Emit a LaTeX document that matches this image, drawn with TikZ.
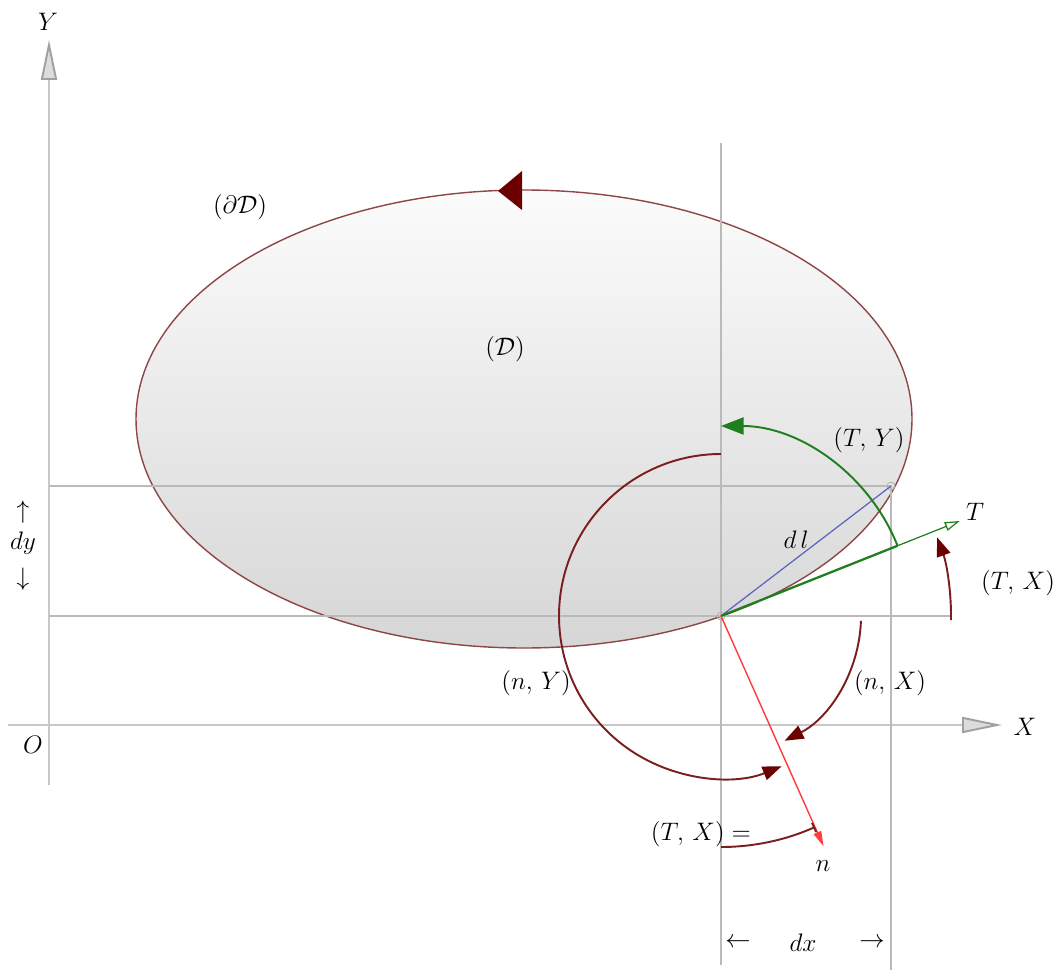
\documentclass[tikz,border=0pt]{standalone}
\usetikzlibrary{arrows.meta}
\definecolor{axisGray}{HTML}{C8C8C8}
\definecolor{axisFill}{HTML}{DCDCDC}
\definecolor{guideGray}{HTML}{BABABA}
\definecolor{rimRed}{HTML}{8E4646}
\definecolor{arcRed}{HTML}{7A1E1E}
\definecolor{tipRed}{HTML}{6A0000}
\definecolor{tanGreen}{HTML}{1F7F1F}
\definecolor{normRed}{HTML}{FF3B3B}
\definecolor{dlBlue}{HTML}{5A64C0}

\begin{document}
\begin{tikzpicture}[x=0.2mm,y=0.2mm]
  \tikzset{
    axis/.style={draw=axisGray,line width=1.1pt,-{Triangle[length=8mm,width=3.2mm,fill=axisFill,color=axisGray!80!black]}},
    guide/.style={draw=guideGray,line width=0.8pt},
    angarc/.style={draw=arcRed,line width=1.1pt,-{Triangle[length=3.8mm,width=2.8mm,fill=tipRed,color=tipRed]}},
    lbl/.style={font=\Large,inner sep=1pt}
  }
  \useasboundingbox (0,0) rectangle (1057,-970);

  % region and boundary
  \draw[rimRed,line width=0.8pt,top color=gray!3,bottom color=gray!32]
    (524,-419) ellipse [x radius=388,y radius=229];
  \fill[tipRed] (498,-191) -- (522,-171) -- (522,-210) -- cycle;

  % axes
  \coordinate (yFoot) at (49,-785);
  \coordinate (yHead) at (49,-40);
  \coordinate (xFoot) at (8,-725);
  \coordinate (xHead) at (1002,-725);
  \draw[axis] (yFoot) -- (yHead);
  \draw[axis] (xFoot) -- (xHead);

  % guide lines
  \coordinate (P) at (721,-616);
  \coordinate (Q) at (891,-486);
  \draw[guide] (49,-486) -- (Q) -- (891,-970);
  \draw[guide] (49,-616) -- (P) -- (950,-616);
  \draw[guide] (721,-143) -- (P) -- (721,-965);
  \draw[gray!60,line width=0.5pt] (P) circle[radius=4];
  \draw[gray!60,line width=0.5pt] (Q) circle[radius=4];

  % vectors
  \coordinate (Tcut) at ([shift={(21.7:190)}]P);
  \coordinate (Ttip) at ([shift={(21.7:257)}]P);
  \coordinate (ntip) at ([shift={(-66:252)}]P);
  \draw[dlBlue,line width=0.7pt] (P) -- (Q);
  \draw[tanGreen,line width=1.3pt] (P) -- (Tcut);
  \draw[tanGreen,line width=0.7pt,-{Triangle[open,length=3mm,width=1.8mm]}] (Tcut) -- (Ttip);
  \draw[normRed,line width=0.8pt,-{Triangle[length=3mm,width=1.6mm]}] (P) -- (ntip);

  % angles
  \draw[tanGreen,line width=1.1pt,-{Triangle[length=4.5mm,width=3.4mm]}]
    (Tcut) arc[start angle=21.7,end angle=90,radius=190];
  \draw[angarc] ([shift={(-1:230)}]P) arc[start angle=-1,end angle=20,radius=230];
  \draw[angarc] ([shift={(-2:140)}]P) arc[start angle=-2,end angle=-63,radius=140];
  \draw[angarc] ([shift={(90:162)}]P) arc[start angle=90,end angle=292,radius=162];
  \draw[arcRed,line width=1.1pt,-{Bar[width=2mm]}]
    ([shift={(270:231)}]P) arc[start angle=270,end angle=294,radius=231];

  % labels
  \node[lbl] (labY) at (48,-22) {$Y$};
  \node[lbl] (labX) at (1025,-727) {$X$};
  \node[lbl] (labO) at (33,-745) {$O$};
  \node[lbl] (labRim) at (240,-207) {$(\partial\mathcal{D})$};
  \node[lbl] (labDom) at (505,-349) {$(\mathcal{D})$};
  \node[lbl] (labTY) at (869,-440) {$(T,\,Y)$};
  \node[lbl] (labT) at (975,-512) {$T$};
  \node[lbl] (labdl) at (796,-540) {$d\,l$};
  \node[lbl] (labTX) at (1018,-583) {$(T,\,X)$};
  \node[lbl] (labnX) at (890,-683) {$(n,\,X)$};
  \node[lbl] (labnY) at (536,-683) {$(n,\,Y)$};
  \node[lbl] (labn) at (823,-866) {$n$};
  \node[lbl] (labTXeq) at (701,-834) {$(T,\,X) =$};
  \node[lbl] (labUp) at (23,-512) {$\uparrow$};
  \node[lbl] (labdy) at (23,-543) {$dy$};
  \node[lbl] (labDown) at (23,-579) {$\downarrow$};
  \node[lbl] (labLeft) at (738,-943) {$\leftarrow$};
  \node[lbl] (labdx) at (803,-943) {$dx$};
  \node[lbl] (labRight) at (872,-943) {$\rightarrow$};
\end{tikzpicture}
\end{document}
